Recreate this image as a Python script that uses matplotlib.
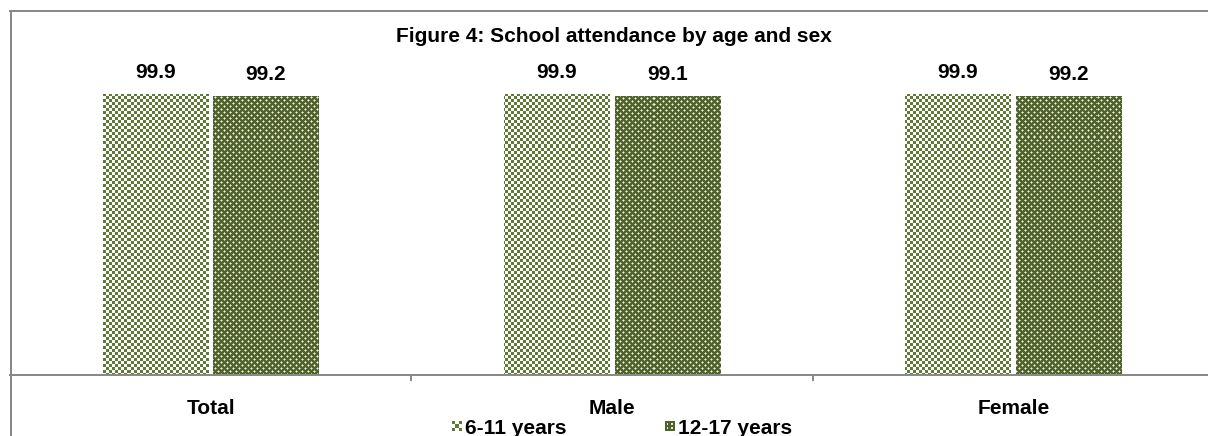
import numpy as np
import matplotlib
matplotlib.use("Agg")
import matplotlib.pyplot as plt
from matplotlib.lines import Line2D
from matplotlib.patches import Rectangle
from matplotlib.legend_handler import HandlerBase

plt.rcParams["font.family"] = ["Liberation Sans", "DejaVu Sans"]

# ---- data -------------------------------------------------------------
categories = ["Total", "Male", "Female"]
series_names = ["6-11 years", "12-17 years"]
age_6_11 = [99.9, 99.9, 99.9]
age_12_17 = [99.2, 99.1, 99.2]
title = "Figure 4: School attendance by age and sex"

# ---- style ------------------------------------------------------------
OLIVE = np.array([0x4f, 0x62, 0x28]) / 255
OLIVE_LIGHT = np.array([0x5e, 0x7b, 0x36]) / 255
WHITE = np.array([1.0, 1.0, 1.0])
GRAY = "#898989"
W, H, DPI = 1208, 436, 100
FS = 15


def light_tile():
    t = np.empty((6, 6, 3))
    for y in range(6):
        for x in range(6):
            t[y, x] = OLIVE_LIGHT if ((x // 3) + (y // 3)) % 2 == 0 else WHITE
    return t


def dark_tile():
    t = np.tile(OLIVE, (6, 6, 1))
    soft = 0.55 * WHITE + 0.45 * OLIVE
    for cy, cx in ((1, 1), (4, 4)):
        t[cy, cx] = 0.9 * WHITE + 0.1 * OLIVE
        for dy, dx in ((0, 1), (1, 0), (0, -1), (-1, 0)):
            t[(cy + dy) % 6, (cx + dx) % 6] = soft
    return t


fig = plt.figure(figsize=(W / DPI, H / DPI), dpi=DPI)
ax = fig.add_axes([10 / W, (H - 375) / H, 1204 / W, (375 - 37.4) / H])
ax.set_xlim(-0.5, 2.5)
ax.set_ylim(0, 120)

bbox = ax.get_window_extent()
pw, ph = int(np.ceil(bbox.width)), int(np.ceil(bbox.height))


def pattern_image(tile):
    reps = (ph // 6 + 1, pw // 6 + 1, 1)
    return np.tile(tile, reps)[:ph, :pw]


x = np.arange(len(categories))
bw = 0.262
off = 0.138
series = [(age_6_11, -off, light_tile()), (age_12_17, off, dark_tile())]

for values, dx, tile in series:
    bars = ax.bar(x + dx, values, width=bw, facecolor="none", edgecolor="none", zorder=2)
    img = pattern_image(tile)
    for bar, v in zip(bars, values):
        im = ax.imshow(img, extent=(-0.5, 2.5, 0, 120), aspect="auto",
                       interpolation="nearest", origin="upper", zorder=2)
        im.set_clip_path(bar)
        ax.annotate(f"{v:.1f}", (bar.get_x() + bar.get_width() / 2, v),
                    xytext=(0, 11.5), textcoords="offset points",
                    ha="center", va="baseline", fontsize=FS, fontweight="bold")

ax.set_xlim(-0.5, 2.5)
ax.set_ylim(0, 120)

# axes styling
for side in ("left", "right", "top"):
    ax.spines[side].set_visible(False)
ax.spines["bottom"].set_color(GRAY)
ax.spines["bottom"].set_linewidth(1.44)
ax.set_yticks([])
ax.set_xticks(x, categories)
ax.set_xticks([0.5, 1.5], minor=True)
ax.tick_params(axis="x", which="major", length=0, pad=17, labelsize=FS)
ax.tick_params(axis="x", which="minor", length=4.3, width=1.44,
               color=GRAY, direction="out")
for lbl in ax.get_xticklabels():
    lbl.set_fontweight("bold")

# chart-area frame
fig.add_artist(Line2D([10.5 / W, 10.5 / W], [0, 1 - 11.5 / H],
                      transform=fig.transFigure, color=GRAY, lw=1.44))
fig.add_artist(Line2D([10 / W, 1], [1 - 11.5 / H, 1 - 11.5 / H],
                      transform=fig.transFigure, color=GRAY, lw=1.44))

fig.text(614 / W, 1 - 41.5 / H, title, ha="center", va="baseline",
         fontsize=FS, fontweight="bold")


# legend with small patterned squares
class PatternHandler(HandlerBase):
    def __init__(self, kind):
        super().__init__()
        self.kind = kind

    def create_artists(self, legend, orig_handle, xdescent, ydescent,
                       width, height, fontsize, trans):
        side = 7.2
        x0 = -xdescent + (width - side) / 2
        y0 = -ydescent + (height - side) / 2
        arts = []
        if self.kind == "light":
            arts.append(Rectangle((x0, y0), side, side, facecolor="white",
                                  edgecolor="none", transform=trans))
            cell = side / 3
            for i in range(3):
                for j in range(3):
                    if (i + j) % 2 == 0:
                        arts.append(Rectangle((x0 + j * cell, y0 + i * cell), cell, cell,
                                              facecolor=OLIVE_LIGHT, edgecolor="none",
                                              transform=trans))
        else:
            arts.append(Rectangle((x0, y0), side, side, facecolor=OLIVE,
                                  edgecolor="none", transform=trans))
            d = 1.3
            for cx, cy in ((0.28, 0.28), (0.72, 0.28), (0.28, 0.72), (0.72, 0.72)):
                arts.append(Rectangle((x0 + cx * side - d / 2, y0 + cy * side - d / 2), d, d,
                                      facecolor="#e4e8da", edgecolor="none",
                                      transform=trans))
        return arts


h1 = Rectangle((0, 0), 1, 1)
h2 = Rectangle((0, 0), 1, 1)
fig.legend([h1, h2], series_names, loc="center",
           bbox_to_anchor=(622 / W, 1 - 428 / H), ncol=2, frameon=False,
           prop={"size": FS, "weight": "bold"}, handlelength=0.48,
           handleheight=0.48, handletextpad=0.15, columnspacing=4.7,
           borderpad=0, borderaxespad=0,
           handler_map={h1: PatternHandler("light"),
                        h2: PatternHandler("dark")})

fig.savefig("out.png", dpi=DPI)
